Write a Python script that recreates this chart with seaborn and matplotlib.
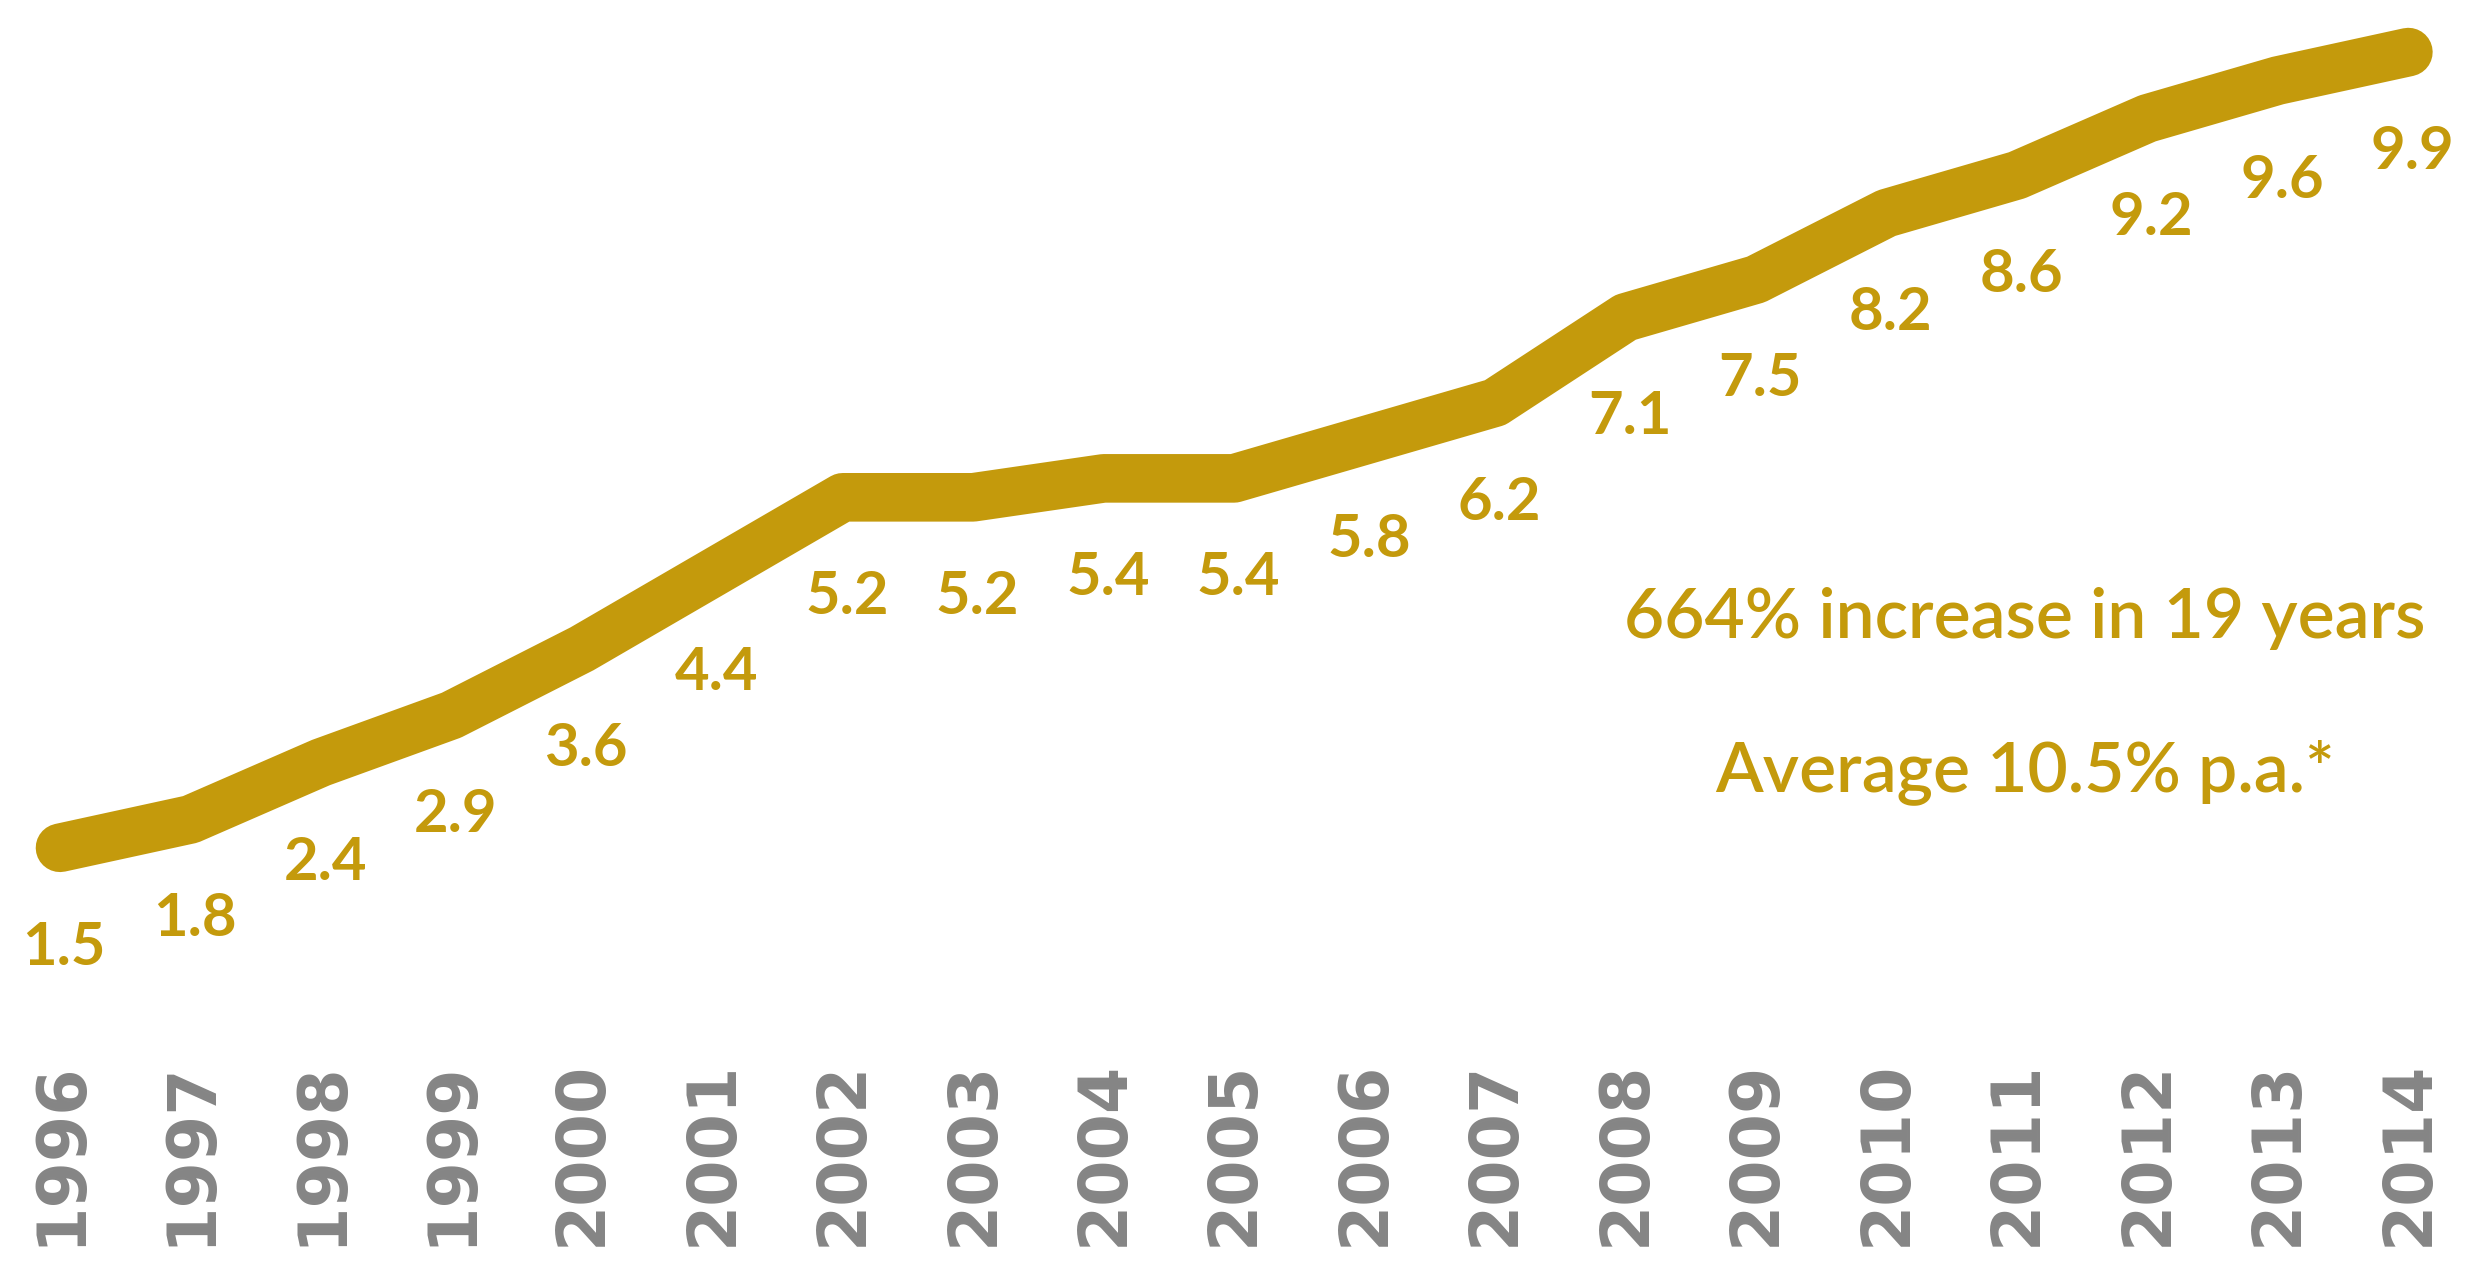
import matplotlib
matplotlib.use("Agg")
import matplotlib.pyplot as plt
import seaborn as sns
import pandas as pd

years = [1996, 1997, 1998, 1999, 2000, 2001, 2002, 2003, 2004, 2005,
         2006, 2007, 2008, 2009, 2010, 2011, 2012, 2013, 2014]
values = [1.5, 1.8, 2.4, 2.9, 3.6, 4.4, 5.2, 5.2, 5.4, 5.4,
          5.8, 6.2, 7.1, 7.5, 8.2, 8.6, 9.2, 9.6, 9.9]
year_labels = [str(y) for y in years]
note_lines = ["664% increase in 19 years", "Average 10.5% p.a.*"]

GOLD = "#C49A0C"
GRAY = "#858585"

sns.set_theme(style="white")
plt.rcParams['font.family'] = ['Lato', 'DejaVu Sans']

df = pd.DataFrame({"idx": list(range(len(years))), "value": values})

fig = plt.figure(figsize=(24.71, 12.63), dpi=100)
ax = fig.add_axes([0, 0.169, 1, 0.831])

sns.lineplot(data=df, x="idx", y="value", ax=ax, color=GOLD,
             linewidth=35, solid_capstyle="round", solid_joinstyle="round")

for i, v in zip(df["idx"], df["value"]):
    ax.annotate(f"{v:.1f}", (i, v), xytext=(3, -72), textcoords="offset points",
                ha="center", va="center", fontsize=43, fontweight="bold",
                color=GOLD)

ax.set_xlim(-0.46, 18.48)
ax.set_ylim(-0.63, 10.45)
ax.set_xticks(df["idx"])
ax.set_xticklabels(year_labels, rotation=90, fontsize=48, fontweight="bold",
                   color=GRAY, family=['DejaVu Sans'])
ax.tick_params(axis="x", length=0, pad=8)
ax.set_yticks([])
ax.set_xlabel("")
ax.set_ylabel("")
for s in ax.spines.values():
    s.set_visible(False)

fig.text(2025 / 2471, 1 - 618 / 1263, note_lines[0], ha="center", va="center",
         fontsize=50, color=GOLD, fontweight="semibold")
fig.text(2025 / 2471, 1 - 772 / 1263, note_lines[1], ha="center", va="center",
         fontsize=50, color=GOLD, fontweight="semibold")

fig.savefig("out.png", dpi=100, facecolor="white")
